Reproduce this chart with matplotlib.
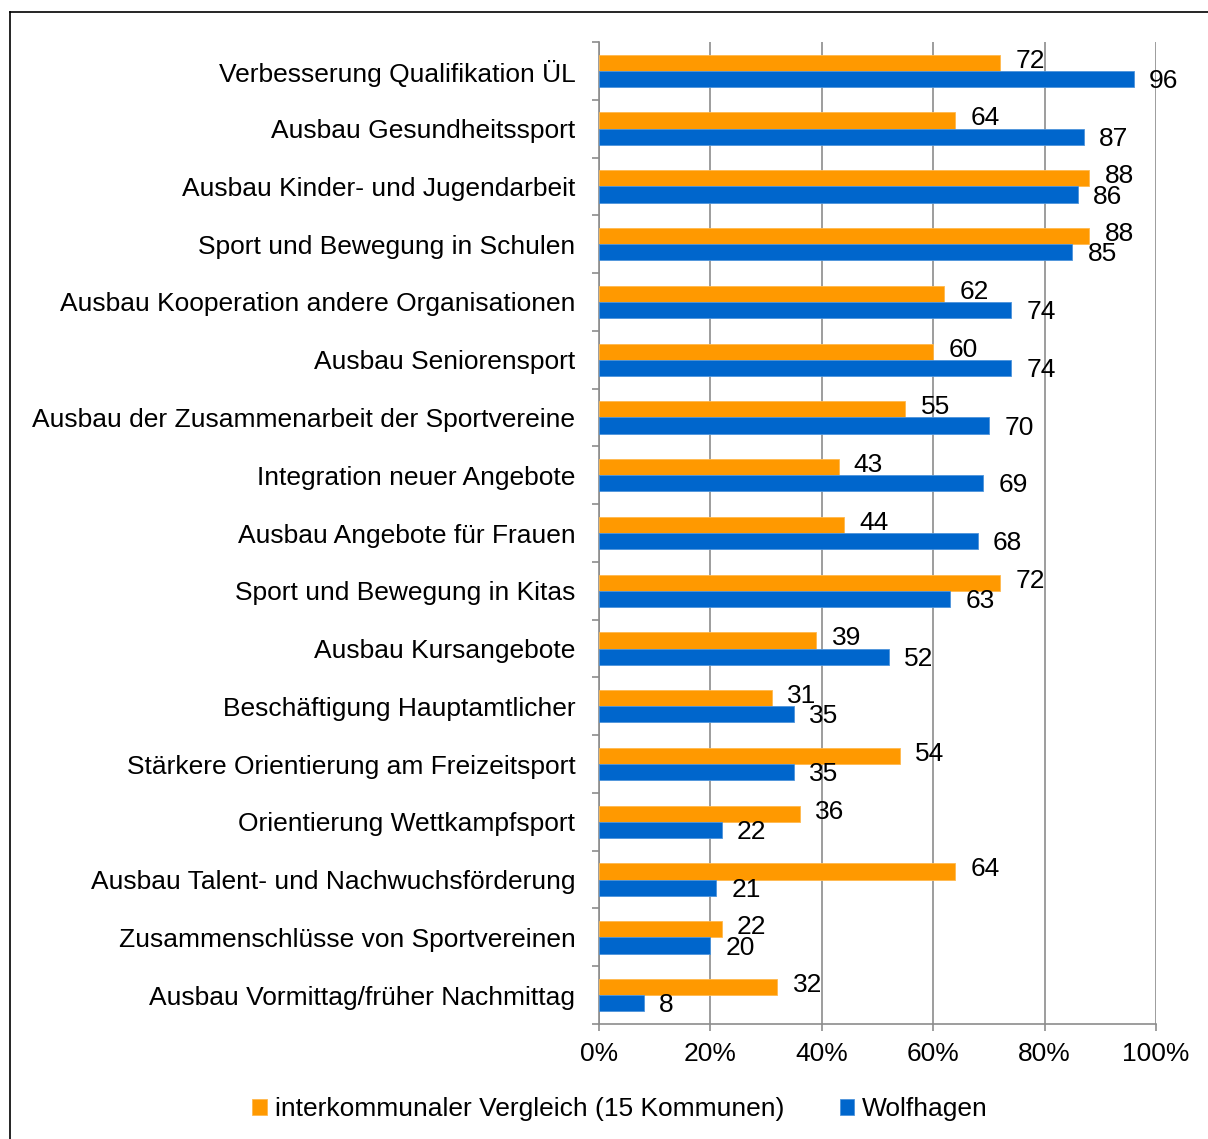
import matplotlib.pyplot as plt
import numpy as np
from matplotlib.lines import Line2D

plt.rcParams['font.family'] = ['Liberation Sans', 'DejaVu Sans']

kategorien = [
    "Verbesserung Qualifikation ÜL",
    "Ausbau Gesundheitssport",
    "Ausbau Kinder- und Jugendarbeit",
    "Sport und Bewegung in Schulen",
    "Ausbau Kooperation andere Organisationen",
    "Ausbau Seniorensport",
    "Ausbau der Zusammenarbeit der Sportvereine",
    "Integration neuer Angebote",
    "Ausbau Angebote für Frauen",
    "Sport und Bewegung in Kitas",
    "Ausbau Kursangebote",
    "Beschäftigung Hauptamtlicher",
    "Stärkere Orientierung am Freizeitsport",
    "Orientierung Wettkampfsport",
    "Ausbau Talent- und Nachwuchsförderung",
    "Zusammenschlüsse von Sportvereinen",
    "Ausbau Vormittag/früher Nachmittag",
]
vergleich = [72, 64, 88, 88, 62, 60, 55, 43, 44, 72, 39, 31, 54, 36, 64, 22, 32]
wolfhagen = [96, 87, 86, 85, 74, 74, 70, 69, 68, 63, 52, 35, 35, 22, 21, 20, 8]
x_ticks = [0, 20, 40, 60, 80, 100]

orange = "#FF9900"
blau = "#0066CC"
grau = "#8C8C8C"
fs = 19

fig = plt.figure(figsize=(12.08, 11.39), dpi=100)
ax = fig.add_axes([599/1208, 1 - 1024/1139, 557/1208, (1024 - 42)/1139])

n = len(kategorien)
y = np.arange(n)
h = 0.28
ax.barh(y - h/2, vergleich, height=h, color=orange, edgecolor="#FFB84D", linewidth=0.6,
        label="interkommunaler Vergleich (15 Kommunen)", zorder=3)
ax.barh(y + h/2, wolfhagen, height=h, color=blau, edgecolor="#4D94DB", linewidth=0.6,
        label="Wolfhagen", zorder=3)

for i in range(n):
    ax.annotate(str(vergleich[i]), (vergleich[i], y[i] - h/2), xytext=(11, 1.5),
                textcoords="offset points", va="center", ha="left", fontsize=fs, zorder=4)
    ax.annotate(str(wolfhagen[i]), (wolfhagen[i], y[i] + h/2), xytext=(11, -1.5),
                textcoords="offset points", va="center", ha="left", fontsize=fs, zorder=4)

ax.set_ylim(n - 0.5, -0.5)
ax.set_xlim(0, 100)
ax.set_xticks(x_ticks)
ax.set_xticklabels([f"{t}%" for t in x_ticks], fontsize=fs)
ax.set_yticks(y)
ax.set_yticklabels(kategorien, fontsize=fs)
ax.tick_params(axis="y", length=0, pad=17)
ax.set_yticks(np.arange(n + 1) - 0.5, minor=True)
ax.tick_params(axis="y", which="minor", length=5, color=grau, width=1.2)
ax.tick_params(axis="x", length=5, color=grau, width=1.2, pad=8)
ax.grid(axis="x", color=grau, linewidth=1.2, zorder=0)
for s in ["top", "right"]:
    ax.spines[s].set_visible(False)
for s in ["left", "bottom"]:
    ax.spines[s].set_color(grau)
    ax.spines[s].set_linewidth(1.2)

fig.legend(loc="center", bbox_to_anchor=(620/1208, 1 - 1109/1139), ncol=2, frameon=False,
           fontsize=fs, handlelength=0.55, handleheight=0.55, handletextpad=0.3, columnspacing=2.1)

# Rahmen
fig.add_artist(Line2D([10/1208, 1], [1 - 12/1139, 1 - 12/1139], color="black", linewidth=1.2,
                      transform=fig.transFigure))
fig.add_artist(Line2D([10/1208, 10/1208], [0, 1 - 12/1139], color="black", linewidth=1.2,
                      transform=fig.transFigure))

fig.savefig("out.png", dpi=100)
